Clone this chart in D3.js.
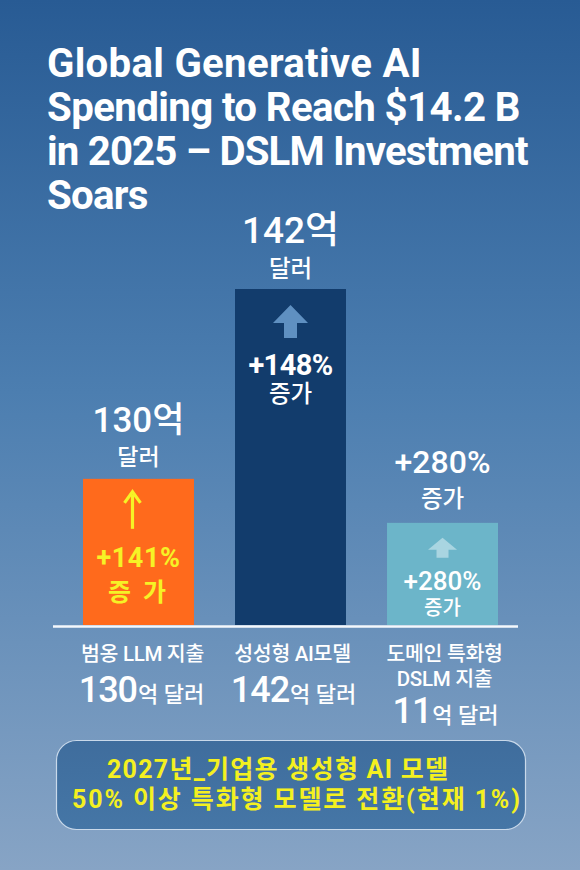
<!DOCTYPE html>
<html><head><meta charset="utf-8">
<script src="https://cdn.jsdelivr.net/npm/d3@7/dist/d3.min.js"></script>
<style>
html,body{margin:0;padding:0;background:#2a5d95;}
svg{display:block;}
text{font-family:Roboto,"Noto Sans CJK KR",sans-serif;}
</style></head>
<body>
<script>
// ---- data ----
const titleLines = ["Global Generative AI", "Spending to Reach $14.2 B", "in 2025 – DSLM Investment", "Soars"];
const categories = ["범옹 LLM 지출", "성성형 AI모델", "도메인 특화형 DSLM 지출"];
const categoryLines = [["범옹 LLM 지출"], ["성성형 AI모델"], ["도메인 특화형", "DSLM 지출"]];
const amounts = [130, 142, 11];          // 억 달러
const growth = [141, 148, 280];          // % 증가
const barLevel = [43.5, 100, 30.4];      // visual bar height (tallest = 100)
const levelTicks = [0, 100];
const noteLines = ["2027년_기업용 생성형 AI 모델", "50% 이상 특화형 모델로 전환(현재 1%)"];

// ---- styles ----
const W = 580, H = 870;
const barColors = ["#ff6a1c", "#123c6c", "#6cb5c9"];
const innerColors = ["#f6f226", "#ffffff", "#ffffff"];
const arrowColors = ["#f6f226", "#5f90c1", "#a9d5e1"];
const titleWidths = [374, 473, 481, 101];

const svg = d3.select("body").append("svg").attr("width", W).attr("height", H);
const defs = svg.append("defs");
const bg = defs.append("linearGradient").attr("id", "bg").attr("x1", 0).attr("y1", 0).attr("x2", 0).attr("y2", 1);
bg.append("stop").attr("offset", 0).attr("stop-color", "#285b94");
bg.append("stop").attr("offset", 0.45).attr("stop-color", "#4c7eb0");
bg.append("stop").attr("offset", 1).attr("stop-color", "#87a4c5");
const bx = defs.append("linearGradient").attr("id", "box").attr("x1", 0).attr("y1", 0).attr("x2", 0).attr("y2", 1);
bx.append("stop").attr("offset", 0).attr("stop-color", "#3f6d9d");
bx.append("stop").attr("offset", 1).attr("stop-color", "#4576a6");
svg.append("rect").attr("width", W).attr("height", H).attr("fill", "url(#bg)");

// ---- title ----
const title = svg.append("g");
const tl = title.selectAll("text").data(titleLines).join("text")
  .attr("x", 47).attr("y", (d, i) => 77 + i * 44)
  .attr("fill", "#fff").attr("font-weight", 700).attr("font-size", 33)
  .attr("letter-spacing", -0.5).text(d => d);
const fitSize = 33 * 473 / tl.nodes()[1].getComputedTextLength();
tl.attr("font-size", fitSize);
tl.each(function(d, i) {
  const wNow = this.getComputedTextLength();
  const extra = (titleWidths[i] - wNow) / Math.max(1, d.length - 1);
  d3.select(this).attr("letter-spacing", -0.5 + extra);
});

// ---- scales ----
const x = d3.scaleBand().domain(categories).range([83, 498]).paddingInner(0.27).paddingOuter(0);
const y = d3.scaleLinear().domain(d3.extent(levelTicks)).range([625, 289]);

const bars = svg.append("g");
bars.selectAll("rect").data(categories).join("rect")
  .attr("x", d => x(d)).attr("width", x.bandwidth())
  .attr("y", (d, i) => y(barLevel[i])).attr("height", (d, i) => y(0) - y(barLevel[i]))
  .attr("fill", (d, i) => barColors[i]);

// baseline
svg.append("line").attr("x1", 53).attr("x2", 518).attr("y1", y(0) + 1.5).attr("y2", y(0) + 1.5)
  .attr("stroke", "#f4f8fc").attr("stroke-width", 2.6);

// ---- labels above bars ----
const topMain = [amounts[0] + "억", amounts[1] + "억", "+" + growth[2] + "%"];
const topSub = ["달러", "달러", "증가"];
const topCfg = [
  {dy: -47, size: 35, sdy: -14, ssize: 23},
  {dy: -46, size: 37, sdy: -12, ssize: 23.5},
  {dy: -50, size: 32, sdy: -16, ssize: 23.5}
];
categories.forEach((c, i) => {
  const cx = x(c) + x.bandwidth() / 2, top = y(barLevel[i]);
  svg.append("text").attr("x", cx).attr("y", top + topCfg[i].dy).attr("text-anchor", "middle")
    .attr("fill", "#fff").attr("font-weight", 500).attr("font-size", topCfg[i].size).text(topMain[i]);
  svg.append("text").attr("x", cx).attr("y", top + topCfg[i].sdy).attr("text-anchor", "middle")
    .attr("fill", "#fff").attr("font-weight", 500).attr("font-size", topCfg[i].ssize).text(topSub[i]);
});

// ---- inside bars ----
const inCfg = [
  {ay0: 13, ay1: 50, dy1: 88, s1: 27, ls1: 0.6, dy2: 122, s2: 25, ls2: 3, sub: "증 가", thin: true, ax: -6, w1: 700},
  {ay0: 16, ay1: 49, dy1: 86, s1: 29, ls1: -0.6, dy2: 113, s2: 23.5, ls2: 0, sub: "증가", thin: false, hw: 35, hh: 18, sw: 13, ax: 0, w1: 700},
  {ay0: 15, ay1: 35, dy1: 67, s1: 26, ls1: 0, dy2: 92, s2: 20, ls2: 0, sub: "증가", thin: false, hw: 29, hh: 12, sw: 12, ax: 0, w1: 500}
];
categories.forEach((c, i) => {
  const cfg = inCfg[i];
  const cx = x(c) + x.bandwidth() / 2, top = y(barLevel[i]);
  const ax = cx + cfg.ax;
  if (cfg.thin) {
    const p = d3.path();
    p.moveTo(ax, top + cfg.ay1); p.lineTo(ax, top + cfg.ay0 + 3);
    svg.append("path").attr("d", p.toString()).attr("stroke", arrowColors[i]).attr("stroke-width", 3.2).attr("fill", "none");
    const h = d3.path();
    h.moveTo(ax - 8, top + cfg.ay0 + 11); h.lineTo(ax, top + cfg.ay0); h.lineTo(ax + 8, top + cfg.ay0 + 11);
    svg.append("path").attr("d", h.toString()).attr("stroke", arrowColors[i]).attr("stroke-width", 3.2)
      .attr("fill", "none").attr("stroke-linejoin", "miter");
  } else {
    const p = d3.path();
    const t = top + cfg.ay0, hb = t + cfg.hh, b = top + cfg.ay1;
    p.moveTo(ax, t); p.lineTo(ax + cfg.hw / 2, hb); p.lineTo(ax + cfg.sw / 2, hb); p.lineTo(ax + cfg.sw / 2, b);
    p.lineTo(ax - cfg.sw / 2, b); p.lineTo(ax - cfg.sw / 2, hb); p.lineTo(ax - cfg.hw / 2, hb); p.closePath();
    svg.append("path").attr("d", p.toString()).attr("fill", arrowColors[i]);
  }
  svg.append("text").attr("x", cx).attr("y", top + cfg.dy1).attr("text-anchor", "middle")
    .attr("fill", innerColors[i]).attr("font-weight", cfg.w1).attr("font-size", cfg.s1)
    .attr("letter-spacing", cfg.ls1).text("+" + growth[i] + "%");
  svg.append("text").attr("x", cx).attr("y", top + cfg.dy2).attr("text-anchor", "middle")
    .attr("fill", innerColors[i]).attr("font-weight", i === 0 ? 700 : 500).attr("font-size", cfg.s2)
    .attr("letter-spacing", cfg.ls2).text(cfg.sub);
});

// ---- category labels ----
categories.forEach((c, i) => {
  const cx = x(c) + x.bandwidth() / 2;
  const lines = categoryLines[i];
  lines.forEach((ln, j) => {
    svg.append("text").attr("x", cx + (i === 0 ? 4 : 2)).attr("y", 661 + j * 25).attr("text-anchor", "middle")
      .attr("fill", "#fff").attr("font-weight", 500).attr("font-size", 20.5).attr("letter-spacing", -0.3).text(ln);
  });
  const ay = lines.length === 1 ? 702 : 723;
  const t = svg.append("text").attr("x", cx + 3).attr("y", ay).attr("text-anchor", "middle")
    .attr("fill", "#fff").attr("font-weight", 500);
  t.append("tspan").attr("font-size", 36).attr("letter-spacing", -1).text(amounts[i]);
  t.append("tspan").attr("font-size", 22).attr("dx", 1).text("억 달러");
});

// ---- note box ----
svg.append("rect").attr("x", 56.5).attr("y", 740.5).attr("width", 469).attr("height", 89)
  .attr("rx", 20).attr("fill", "url(#box)").attr("stroke", "#c9d9ea").attr("stroke-width", 1.2);
const noteCfg = [{x: 107, y: 778, w: 341}, {x: 72, y: 808, w: 448}];
noteLines.forEach((ln, i) => {
  svg.append("text").attr("x", noteCfg[i].x).attr("y", noteCfg[i].y)
    .attr("fill", "#f4f020").attr("font-weight", 700).attr("font-size", 25)
    .attr("textLength", noteCfg[i].w).attr("lengthAdjust", "spacing")
    .attr("font-family", "'Noto Sans CJK KR',sans-serif").text(ln);
});
</script>
</body></html>
